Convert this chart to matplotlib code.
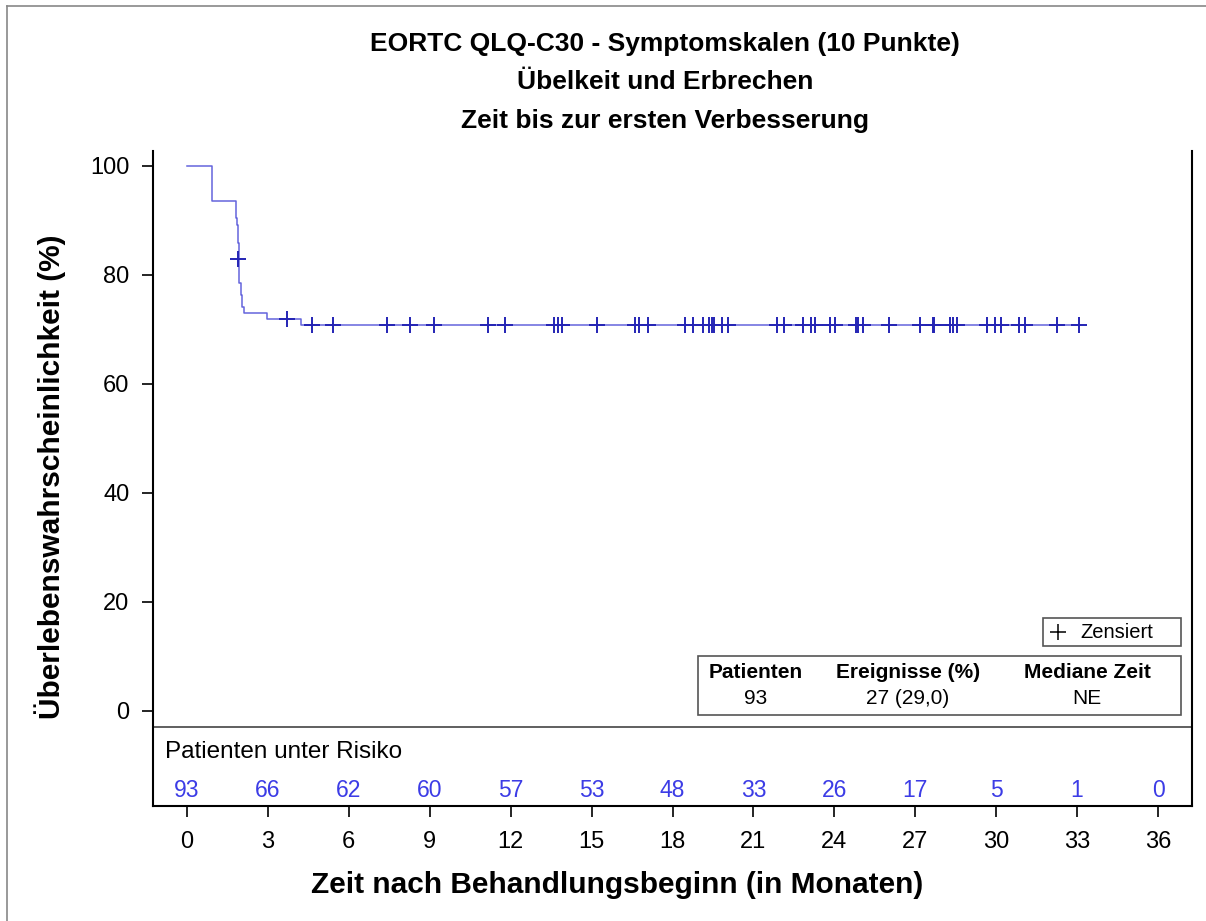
import matplotlib
matplotlib.use("Agg")
import matplotlib.pyplot as plt
from matplotlib.patches import Rectangle
from matplotlib.lines import Line2D

plt.rcParams['font.family'] = ['Liberation Sans', 'DejaVu Sans']

# Kaplan-Meier curve (step times in months, survival in %)
step_t = [0, 0.94, 1.80, 1.84, 1.88, 1.94, 1.99, 2.04, 2.12, 2.98, 4.23, 33.1]
step_s = [100, 93.5, 90.4, 89.2, 85.8, 78.5, 76.3, 74.2, 73.0, 71.9, 70.8, 70.8]

# censored observations
cens_t = [1.88, 3.71, 4.65, 5.40, 7.40, 8.26, 9.15, 11.15, 11.80,
          13.61, 13.77, 13.89, 15.21, 16.60, 16.77, 17.08,
          18.46, 18.77, 19.12, 19.36, 19.45, 19.55, 19.82, 20.04,
          21.86, 22.15, 22.83, 23.12, 23.30, 23.84, 24.03,
          24.79, 24.86, 25.08, 26.04, 27.18, 27.65, 27.70,
          28.29, 28.41, 28.54, 29.65, 29.96, 30.18, 30.85, 31.07,
          32.25, 33.08]
cens_s = [82.9, 71.9] + [70.8] * (len(cens_t) - 2)

# patients at risk
risk_t = [0, 3, 6, 9, 12, 15, 18, 21, 24, 27, 30, 33, 36]
risk_n = [93, 66, 62, 60, 57, 53, 48, 33, 26, 17, 5, 1, 0]

col_head = ["Patienten", "Ereignisse (%)", "Mediane Zeit"]
col_vals = ["93", "27 (29,0)", "NE"]

title_lines = ["EORTC QLQ-C30 - Symptomskalen (10 Punkte)",
               "Übelkeit und Erbrechen",
               "Zeit bis zur ersten Verbesserung"]

W, H = 1206, 921
fig = plt.figure(figsize=(W / 100, H / 100), dpi=100)
ax = fig.add_axes([153 / W, 1 - 805.7 / H, 1039 / W, 654.7 / H])

line_c = '#6464dc'
mark_c = '#2424b4'
risk_c = '#3c3ce6'

ax.step(step_t, step_s, where='post', color=line_c, lw=1.1)
ax.plot(cens_t, cens_s, ls='none', marker='+', ms=12, mew=1.4, color=mark_c)

ax.set_xlim(-1.26, 37.26)
ax.set_ylim(-17.4, 102.75)
ax.set_xticks(risk_t)
ax.set_yticks([0, 20, 40, 60, 80, 100])
ax.tick_params(axis='both', direction='out', labelsize=17, width=1.2, color='black')
ax.tick_params(axis='y', length=8, pad=9)
ax.tick_params(axis='x', length=8, pad=10)
ax.spines['top'].set_visible(False)
for s in ['left', 'right', 'bottom']:
    ax.spines[s].set_linewidth(1.5)

ax.axhline(-2.88, color='#444444', lw=1.2)

ax.text(-0.8, -7.5, "Patienten unter Risiko", fontsize=17.5, va='center', ha='left')
for t, n in zip(risk_t, risk_n):
    ax.text(t, -14.7, str(n), color=risk_c, fontsize=16.5, ha='center', va='center')

# legend box
ax.add_patch(Rectangle((0.8566, 0.2439), 0.1328, 0.0428, transform=ax.transAxes,
                       fill=False, ec='#555555', lw=1.2))
ax.add_line(Line2D([0.871], [0.2653], marker='+', ms=12, mew=1.1, color='black',
                   transform=ax.transAxes))
ax.text(0.893, 0.2653, "Zensiert", transform=ax.transAxes, fontsize=14.5,
        va='center', ha='left')

# summary table
ax.add_patch(Rectangle((0.5245, 0.1387), 0.4649, 0.09, transform=ax.transAxes,
                       fill=False, ec='#555555', lw=1.2))
for xc, h, v in zip([0.5804, 0.7267, 0.899], col_head, col_vals):
    ax.text(xc, 0.2042, h, transform=ax.transAxes, fontsize=15, fontweight='bold',
            ha='center', va='center')
    ax.text(xc, 0.163, v, transform=ax.transAxes, fontsize=15,
            ha='center', va='center')

ax.set_xlabel("Zeit nach Behandlungsbeginn (in Monaten)", fontsize=21.5,
              fontweight='bold')
ax.xaxis.set_label_coords(0.4466, -0.121)
ax.xaxis.label.set_va('center')
ax.set_ylabel("Überlebenswahrscheinlichkeit (%)", fontsize=21.5,
              fontweight='bold')
ax.yaxis.set_label_coords(-0.084, 0.502)

for yb, txt in zip([51, 89, 128], title_lines):
    fig.text(665 / W, 1 - yb / H, txt, fontsize=19, fontweight='bold',
             ha='center', va='baseline')

# outer border
fig.add_artist(Line2D([7 / W, 7 / W], [0, 1 - 6 / H], color='#888888', lw=1.2,
                      transform=fig.transFigure))
fig.add_artist(Line2D([7 / W, 1], [1 - 6 / H, 1 - 6 / H], color='#888888', lw=1.2,
                      transform=fig.transFigure))

fig.savefig("out.png", dpi=100)
